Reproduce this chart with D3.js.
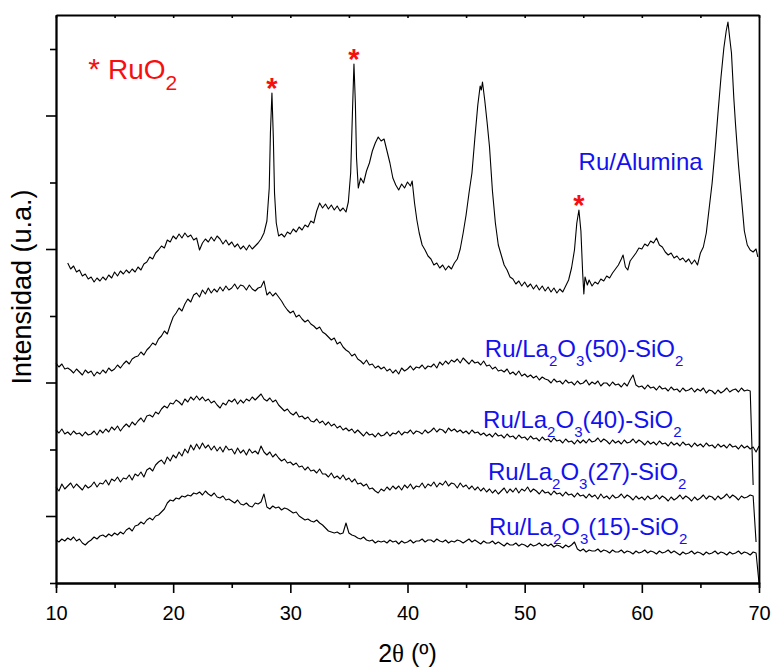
<!DOCTYPE html>
<html>
<head>
<meta charset="utf-8">
<script src="https://cdn.jsdelivr.net/npm/d3@7"></script>
<style>
  html, body { margin: 0; padding: 0; background: #fff; }
  svg { display: block; }
  text { font-family: "Liberation Sans", Arial, sans-serif; }
</style>
</head>
<body>
<div id="chart"></div>
<script>
// XRD patterns - intensities in a.u.

// sampling grid shared by the four La2O3-SiO2 patterns: 10..70 deg, step 0.25
const angles = d3.range(0, 241).map(i => 10 + i * 0.25);

const la50 = [
  220, 216, 219, 214,  215, 213, 210, 214,  211, 208, 213, 210,  212, 207, 211, 209,
  213, 210, 215, 212,  214, 218, 215, 219,  222, 219, 224, 226,  227, 231, 228, 233,
  236, 240, 238, 244,  247, 252, 249, 258,  266, 270, 275, 272,  279, 284, 281, 288,
  290, 286, 293, 289,  295, 290, 294, 291,  296, 292, 297, 293,  295, 299, 294, 298,
  297, 293, 298, 294,  292, 295, 296, 302,  288, 291, 287, 290,  286, 282, 277, 273,
  270, 272, 266, 268,  264, 261, 263, 259,  257, 254, 256, 251,  249, 246, 243, 245,
  239, 241, 236, 233,  231, 227, 229, 224,  222, 219, 223, 218,  219, 215, 217, 214,
  216, 212, 214, 210,  213, 209, 215, 212,  214, 217, 213, 216,  215, 218, 214, 217,
  216, 219, 215, 221,  218, 222, 219, 223,  221, 224, 220, 225,  222, 219, 223, 220,
  221, 218, 222, 217,  218, 214, 216, 212,  213, 211, 214, 209,  211, 208, 212, 207,
  209, 206, 208, 205,  207, 203, 206, 204,  203, 200, 204, 201,  202, 199, 203, 200,
  201, 198, 202, 199,  200, 203, 198, 201,  199, 202, 197, 200,  200, 197, 201, 198,
  199, 196, 200, 197,  203, 208, 198, 196,  197, 194, 198, 195,  196, 193, 197, 194,
  195, 192, 196, 193,  194, 191, 195, 192,  193, 195, 191, 194,  192, 195, 190, 193,
  192, 189, 193, 190,  192, 195, 191, 193,  194, 191, 195, 192,  193, 192, 98, null,
  null
];

const la40 = [
  153, 150, 154, 149,  151, 148, 152, 149,  150, 147, 151, 148,  149, 152, 148, 153,
  150, 154, 151, 156,  153, 157, 152, 156,  159, 156, 161, 158,  162, 165, 161, 167,
  168, 166, 171, 169,  174, 177, 175, 180,  179, 183, 181, 178,  184, 181, 186, 183,
  187, 183, 186, 182,  184, 180, 182, 178,  175, 180, 178, 183,  181, 184, 179, 183,
  180, 184, 182, 186,  183, 186, 189, 184,  182, 185, 181, 183,  178, 175, 172, 174,
  170, 168, 171, 166,  167, 164, 166, 162,  161, 164, 160, 162,  158, 161, 157, 159,
  155, 157, 153, 155,  152, 154, 150, 153,  150, 147, 151, 148,  149, 146, 150, 147,
  148, 151, 147, 150,  149, 152, 148, 151,  150, 153, 149, 152,  151, 149, 153, 150,
  152, 155, 151, 154,  153, 150, 155, 152,  154, 151, 153, 150,  152, 149, 153, 150,
  151, 148, 150, 147,  149, 146, 150, 147,  148, 145, 149, 146,  147, 144, 148, 145,
  146, 143, 147, 144,  145, 142, 146, 143,  144, 141, 145, 142,  143, 140, 144, 141,
  142, 139, 143, 140,  143, 140, 144, 141,  142, 145, 141, 144,  142, 139, 143, 140,
  142, 139, 143, 140,  141, 144, 140, 143,  141, 138, 142, 139,  141, 138, 142, 139,
  140, 137, 141, 138,  140, 137, 141, 138,  139, 136, 140, 137,  139, 136, 140, 137,
  138, 135, 139, 136,  138, 135, 139, 136,  137, 134, 138, 135,  137, 134, 136, 131,
  137
];

const la27 = [
   96,  92,  99,  94,   97, 100,  95,  99,   96,  93,  98,  95,   97, 101,  96, 100,
   99, 103,  98, 104,  102, 106, 101, 105,  104, 108, 103, 109,  107, 111, 106, 113,
  115, 112, 118, 121,  123, 119, 126, 122,  128, 125, 131, 127,  134, 130, 138, 133,
  139, 134, 140, 135,  138, 133, 137, 132,  136, 131, 137, 133,  134, 129, 135, 130,
  133, 128, 134, 130,  132, 129, 137, 131,  128, 131, 126, 129,  125, 122, 124, 120,
  121, 118, 120, 116,  117, 113, 116, 112,  113, 110, 114, 109,  109, 106, 110, 105,
  107, 104, 108, 103,  105, 101, 104,  99,  100,  97,  99,  94,   95,  92,  90,  94,
   92,  96,  93,  97,   94,  97,  93,  98,   95,  99,  94,  97,   96, 100,  95,  99,
   97, 101,  96, 100,   98, 102,  97, 100,   99,  95, 100,  96,   98,  94,  97,  93,
   96,  92,  95,  91,   94,  90,  93,  89,   92,  95,  90,  94,   91,  95,  90,  94,
   92,  96,  91,  94,   92,  89,  93,  90,   91,  88,  92,  89,   90,  87,  91,  88,
   89,  86,  90,  87,   88,  85,  89,  86,   88,  84,  89,  85,   87,  84,  88,  85,
   86,  89,  85,  88,   86,  83,  87,  84,   86,  83,  87,  84,   85,  88,  84,  87,
   85,  82,  86,  83,   85,  88,  84,  87,   85,  82,  86,  83,   85,  88,  84,  87,
   86,  83,  87,  84,   86,  89,  85,  88,   86,  83,  87,  85,   86,  88,  87,  41,
  null
];

const la15 = [
   43,  41,  44,  42,   45,  43,  46,  42,   44,  40,  38,  41,   43,  46,  44,  47,
   48,  46,  49,  47,   50,  48,  51,  49,   53,  55,  52,  57,   58,  61,  59,  63,
   65,  63,  67,  68,   71,  74,  80,  83,   82,  85,  84,  87,   86,  88,  87,  90,
   89,  91,  88,  92,   89,  87,  90,  86,   85,  87,  83,  84,   82,  80,  83,  79,
   78,  80,  77,  76,   80,  79,  81,  89,   76,  74,  77,  75,   76,  73,  75,  74,
   72,  70,  71,  67,   65,  63,  64,  62,   61,  63,  60,  58,   55,  52,  51,  50,
   51,  49,  50,  60,   50,  48,  47,  45,   44,  46,  43,  42,   43,  40,  42,  41,
   42,  40,  43,  41,   42,  39,  42,  40,   41,  43,  40,  42,   42,  44,  41,  43,
   43,  41,  44,  42,   41,  43,  40,  42,   41,  43,  42,  40,   42,  44,  41,  43,
   41,  39,  42,  40,   40,  42,  39,  41,   39,  37,  40,  38,   38,  40,  37,  39,
   38,  36,  39,  37,   38,  40,  37,  39,   37,  39,  36,  38,   37,  35,  38,  36,
   38,  41,  34,  32,   34,  31,  33,  32,   32,  34,  31,  33,   32,  30,  33,  31,
   31,  33,  30,  32,   31,  29,  32,  30,   31,  33,  30,  32,   31,  29,  32,  30,
   31,  33,  30,  32,   30,  28,  31,  29,   30,  32,  29,  31,   30,  28,  31,  29,
   30,  32,  29,  31,   30,  28,  31,  29,   30,  32,  29,  31,   30,  28,  31,  30,
    0
];

// Ru/Alumina: [2theta, intensity], denser around the sharp peaks
const alumina = [
  [11.0, 320], [11.25, 314], [11.5, 317], [11.75, 311], [12.0, 313], [12.25, 307], [12.5, 309], [12.75, 304],
  [13.0, 306], [13.25, 301], [13.5, 305], [13.75, 302], [14.0, 306], [14.25, 303], [14.5, 308], [14.75, 305],
  [15.0, 311], [15.25, 307], [15.5, 312], [15.75, 309], [16.0, 313], [16.25, 310], [16.5, 314], [16.75, 311],
  [17.0, 316], [17.25, 313], [17.5, 319], [17.75, 321], [18.0, 326], [18.25, 324], [18.5, 330], [18.75, 333],
  [19.0, 337], [19.25, 335], [19.5, 343], [19.75, 341], [20.0, 347], [20.25, 344], [20.5, 349], [20.75, 345],
  [21.0, 350], [21.25, 346], [21.5, 348], [21.75, 343], [22.0, 345], [22.25, 333], [22.5, 340], [22.75, 344],
  [23.0, 341], [23.25, 346], [23.5, 342], [23.75, 347], [24.0, 344], [24.25, 339], [24.5, 343], [24.75, 338],
  [25.0, 341], [25.25, 336], [25.5, 339], [25.75, 334], [26.0, 337], [26.25, 333], [26.5, 338], [26.75, 334],
  [27.0, 337], [27.25, 340], [27.5, 344], [27.75, 350], [28.0, 362], [28.2, 395], [28.3, 450], [28.43, 490],
  [28.55, 445], [28.65, 390], [28.8, 360], [29.0, 347], [29.25, 349], [29.5, 346], [29.75, 351], [30.0, 349],
  [30.25, 354], [30.5, 351], [30.75, 356], [31.0, 353], [31.25, 358], [31.5, 356], [31.75, 362], [32.0, 360],
  [32.25, 372], [32.5, 380], [32.75, 375], [33.0, 379], [33.25, 374], [33.5, 378], [33.75, 373], [34.0, 377],
  [34.25, 372], [34.5, 375], [34.75, 371], [34.95, 381], [35.15, 410], [35.3, 470], [35.43, 519], [35.55, 480],
  [35.65, 425], [35.8, 395], [36.0, 405], [36.25, 400], [36.5, 412], [36.75, 420], [37.0, 432], [37.25, 440],
  [37.5, 446], [37.75, 442], [38.0, 444], [38.25, 432], [38.5, 420], [38.75, 405], [39.0, 398], [39.25, 393],
  [39.5, 399], [39.75, 395], [40.0, 401], [40.25, 397], [40.4, 402], [40.6, 380], [40.8, 363], [41.0, 350],
  [41.25, 338], [41.5, 333], [41.75, 327], [42.0, 324], [42.25, 318], [42.5, 320], [42.75, 315], [43.0, 318],
  [43.25, 313], [43.5, 317], [43.75, 314], [44.0, 320], [44.25, 324], [44.5, 334], [44.75, 350], [45.0, 368],
  [45.25, 390], [45.5, 410], [45.75, 445], [46.0, 478], [46.2, 497], [46.3, 493], [46.4, 501], [46.6, 482],
  [46.8, 460], [47.0, 436], [47.25, 392], [47.5, 360], [47.75, 338], [48.0, 328], [48.25, 318], [48.5, 313],
  [48.75, 306], [49.0, 304], [49.25, 299], [49.5, 302], [49.75, 297], [50.0, 301], [50.25, 296], [50.5, 299],
  [50.75, 294], [51.0, 298], [51.25, 293], [51.5, 297], [51.75, 292], [52.0, 296], [52.25, 291], [52.5, 295],
  [52.75, 290], [53.0, 294], [53.25, 291], [53.5, 297], [53.75, 303], [54.0, 315], [54.25, 333], [54.45, 360],
  [54.63, 373], [54.8, 352], [54.95, 310], [55.05, 289], [55.15, 306], [55.35, 298], [55.5, 303], [55.75, 297],
  [56.0, 301], [56.25, 299], [56.5, 304], [56.75, 302], [57.0, 307], [57.25, 305], [57.5, 310], [57.75, 314],
  [58.0, 318], [58.25, 324], [58.4, 328], [58.6, 316], [58.8, 313], [59.0, 322], [59.25, 326], [59.5, 330],
  [59.75, 335], [60.0, 334], [60.25, 339], [60.5, 337], [60.75, 342], [61.0, 340], [61.25, 345], [61.5, 338],
  [61.75, 336], [62.0, 331], [62.25, 328], [62.5, 330], [62.75, 325], [63.0, 327], [63.25, 323], [63.5, 325],
  [63.75, 321], [64.0, 324], [64.25, 319], [64.5, 323], [64.75, 318], [65.0, 330], [65.25, 336], [65.5, 350],
  [65.75, 375], [66.0, 400], [66.25, 433], [66.5, 470], [66.75, 505], [67.0, 535], [67.2, 552], [67.35, 561],
  [67.5, 545], [67.65, 530], [67.85, 485], [68.0, 458], [68.25, 418], [68.5, 385], [68.75, 352], [69.0, 338],
  [69.25, 333], [69.5, 331], [69.75, 334], [69.9, 326]
];

const seriesNames = ['Ru/La2O3(50)-SiO2', 'Ru/La2O3(40)-SiO2', 'Ru/La2O3(27)-SiO2', 'Ru/La2O3(15)-SiO2'];
const aluminaName = 'Ru/Alumina';
const ruo2Peaks = [28.43, 35.43, 54.63];

const xTicks = [10, 20, 30, 40, 50, 60, 70];
const xMinorTicks = [15, 25, 35, 45, 55, 65];
const yMajorTicks = [67, 200.5, 334, 467.5];
const yMinorTicks = [0, 133.5, 267, 400.5, 534];

const BLUE = '#1212ee';
const RED = '#f50f0f';

// ---------------------------------------------------------------

const margin = { top: 15, right: 14, bottom: 85, left: 56 };
const width = 773 - margin.left - margin.right;
const height = 668 - margin.top - margin.bottom;

const svg = d3.select('#chart').append('svg')
    .attr('width', width + margin.left + margin.right)
    .attr('height', height + margin.top + margin.bottom);
const g = svg.append('g').attr('transform', `translate(${margin.left},${margin.top})`);

const x = d3.scaleLinear().domain([10, 70]).range([0, width]);
const y = d3.scaleLinear().domain([0, 568]).range([height, 0]);

const line = d3.line()
    .defined(d => d[1] != null)
    .x(d => x(d[0]))
    .y(d => y(d[1]));

[la50, la40, la27, la15].forEach(vals => {
    g.append('path')
        .datum(angles.map((a, i) => [a, vals[i]]))
        .attr('fill', 'none')
        .attr('stroke', '#000')
        .attr('stroke-width', 1.1)
        .attr('stroke-linejoin', 'round')
        .attr('d', line);
});
g.append('path')
    .datum(alumina)
    .attr('fill', 'none')
    .attr('stroke', '#000')
    .attr('stroke-width', 1.1)
    .attr('stroke-linejoin', 'round')
    .attr('d', line);

// axes
function styleAxis(sel) {
    sel.select('.domain').attr('stroke', '#000').attr('stroke-width', 1.8);
    sel.selectAll('.tick line').attr('stroke', '#000').attr('stroke-width', 1.6);
    sel.selectAll('.tick text').attr('fill', '#000').attr('font-size', 20)
        .attr('font-family', '"Liberation Sans", Arial, sans-serif');
}
g.append('g').attr('transform', `translate(0,${height})`)
    .call(d3.axisBottom(x).tickValues(xTicks).tickSize(10).tickPadding(13).tickSizeOuter(0).tickFormat(d3.format('d')))
    .call(styleAxis);
g.append('g').attr('transform', `translate(0,${height})`)
    .call(d3.axisBottom(x).tickValues(xMinorTicks).tickSize(5).tickFormat(''))
    .call(styleAxis);
g.append('g')
    .call(d3.axisTop(x).tickValues(xTicks.concat(xMinorTicks)).tickSize(-3).tickSizeOuter(0).tickFormat(''))
    .call(styleAxis);
g.append('g')
    .call(d3.axisLeft(y).tickValues(yMajorTicks).tickSize(10).tickSizeOuter(0).tickFormat(''))
    .call(styleAxis);
g.append('g')
    .call(d3.axisLeft(y).tickValues(yMinorTicks).tickSize(6).tickSizeOuter(0).tickFormat(''))
    .call(styleAxis);
g.append('g').attr('transform', `translate(${width},0)`)
    .call(d3.axisRight(y).tickValues([]).tickSizeOuter(0))
    .call(styleAxis);

// text with chemical subscripts (a digit right after a letter)
function chemText(sel, str, size, subSize, shift) {
    const parts = [];
    for (let i = 0; i < str.length; i++) {
        const sub = /\d/.test(str[i]) && i > 0 && /[A-Za-z]/.test(str[i - 1]);
        const last = parts[parts.length - 1];
        if (last && last.sub === sub) last.t += str[i];
        else parts.push({ t: str[i], sub });
    }
    let down = false;
    parts.forEach(p => {
        const ts = sel.append('tspan').text(p.t).attr('font-size', p.sub ? subSize : size);
        if (p.sub && !down) { ts.attr('dy', shift); down = true; }
        else if (!p.sub && down) { ts.attr('dy', -shift); down = false; }
    });
}

const labelPos = [[46.6, 226], [46.45, 155], [46.87, 103], [46.95, 48]];
seriesNames.forEach((name, i) => {
    const t = g.append('text')
        .attr('x', x(labelPos[i][0]))
        .attr('y', y(labelPos[i][1]))
        .attr('fill', BLUE);
    chemText(t, name, 24, 15, 9);
});

g.append('text')
    .attr('x', x(54.6))
    .attr('y', y(413))
    .attr('fill', BLUE)
    .attr('font-size', 24)
    .text(aluminaName);

// RuO2 markers above the peaks
ruo2Peaks.forEach(p => {
    const near = alumina.filter(d => Math.abs(d[0] - p) < 0.3);
    const top = d3.max(near, d => d[1]);
    g.append('text')
        .attr('x', x(p))
        .attr('y', y(top) + 5)
        .attr('text-anchor', 'middle')
        .attr('fill', RED)
        .attr('font-size', 29)
        .attr('font-weight', 'bold')
        .text('*');
});

// legend: * RuO2
g.append('text')
    .attr('x', x(12.75))
    .attr('y', y(504))
    .attr('fill', RED)
    .attr('font-size', 30)
    .text('*');
const legend = g.append('text')
    .attr('x', x(14.44))
    .attr('y', y(504))
    .attr('fill', RED);
chemText(legend, 'RuO2', 28, 21, 11);

// axis titles
svg.append('text')
    .attr('x', margin.left + width / 2)
    .attr('y', 662)
    .attr('text-anchor', 'middle')
    .attr('font-size', 25)
    .attr('fill', '#000')
    .call(t => {
        t.append('tspan').text('2');
        t.append('tspan').attr('font-family', '"Liberation Serif", "Times New Roman", serif').text('θ');
        t.append('tspan').text(' (º)');
    });

svg.append('text')
    .attr('transform', 'rotate(-90)')
    .attr('x', -287)
    .attr('y', 31)
    .attr('text-anchor', 'middle')
    .attr('font-size', 27)
    .attr('fill', '#000')
    .text('Intensidad (u.a.)');
</script>
</body>
</html>
